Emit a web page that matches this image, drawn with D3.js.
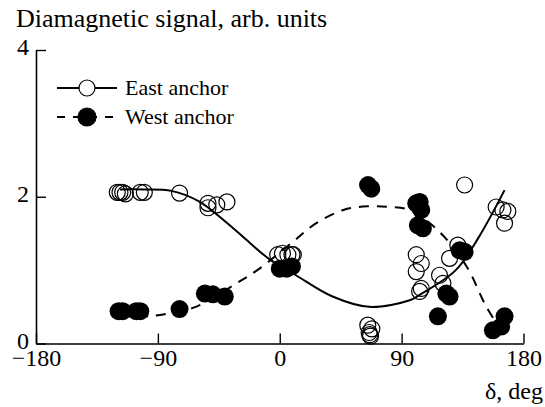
<!DOCTYPE html>
<html>
<head>
<meta charset="utf-8">
<script src="https://cdn.jsdelivr.net/npm/d3@7"></script>
<style>
  html, body { margin: 0; padding: 0; background: #fff; }
  svg { display: block; }
  svg text { font-family: "Liberation Serif", Tinos, "DejaVu Serif", serif !important; fill: #000; }
</style>
</head>
<body>
<svg id="chart" width="545" height="407"></svg>
<script>
// Measured points, East anchor (open circles): [delta in deg, signal]
const eastPoints = [
  [-120, 2.06], [-118, 2.06], [-116, 2.06], [-114, 2.04], [-103, 2.06], [-100, 2.06],
  [-74, 2.05], [-53, 1.91], [-53, 1.85], [-46.5, 1.89], [-39, 1.93],
  [-1.5, 1.21], [2, 1.23], [6, 1.21], [9, 1.21], [10, 1.21],
  [65, 0.25], [66, 0.15], [67, 0.10], [68, 0.20], [66.5, 0.12],
  [100.8, 1.21], [104.5, 1.09], [100.8, 0.98], [104.5, 0.75], [103.3, 0.71],
  [118, 0.93], [120.5, 0.82], [125.4, 1.16], [131.5, 1.34], [136.5, 2.16],
  [159.8, 1.86], [164.8, 1.82], [168.4, 1.80], [166, 1.64]
];

// Measured points, West anchor (filled circles)
const westPoints = [
  [-119, 0.44], [-116, 0.44], [-106, 0.44], [-103, 0.44], [-74, 0.47],
  [-55.3, 0.68], [-49.4, 0.67], [-40.6, 0.64],
  [0, 1.02], [5, 1.02], [9, 1.05],
  [65.2, 2.16], [67.6, 2.11],
  [100.8, 1.91], [103.3, 1.93], [104.5, 1.82], [102, 1.61], [105.7, 1.57],
  [132.8, 1.27], [136.5, 1.25], [123, 0.68], [125.4, 0.64], [116.8, 0.37],
  [157.4, 0.18], [163.5, 0.23], [166, 0.37]
];

// Fitted trend, East anchor (solid line)
const eastFit = [
  [-118, 2.10], [-100, 2.10], [-80, 2.08], [-60, 1.94], [-40, 1.66], [-22, 1.37],
  [-7, 1.14], [12, 0.93], [39, 0.64], [66, 0.50], [96, 0.59], [103, 0.66],
  [130, 1.00], [147, 1.45], [166, 2.09]
];

// Fitted trend, West anchor (dashed line)
const westFit = [
  [-118, 0.38], [-100, 0.37], [-85, 0.40], [-62, 0.50], [-32, 0.82], [-15, 1.02],
  [10, 1.39], [27, 1.64], [47, 1.82], [65, 1.87], [81, 1.86], [96, 1.82],
  [118, 1.52], [138, 1.05], [152, 0.52], [162, 0.22]
];

const xTicks = [-180, -90, 0, 90, 180];
const yTicks = [0, 2, 4];
const seriesNames = ["East anchor", "West anchor"];

const FONT = "'Liberation Serif', Tinos, 'DejaVu Serif', serif";

const svg = d3.select("#chart");
const x = d3.scaleLinear().domain([-180, 180]).range([36, 523.5]);
const y = d3.scaleLinear().domain([0, 4]).range([343.5, 50]);

// Axes with inward ticks
const xAxis = svg.append("g")
  .attr("transform", `translate(0,${y(0)})`)
  .call(d3.axisBottom(x).tickValues(xTicks).tickFormat(d3.format("d"))
    .tickSizeInner(-10).tickSizeOuter(0).tickPadding(4));
const yAxis = svg.append("g")
  .attr("transform", `translate(${x(-180)},0)`)
  .call(d3.axisLeft(y).tickValues(yTicks).tickFormat(d3.format("d"))
    .tickSizeInner(-10).tickSizeOuter(0).tickPadding(7));

[xAxis, yAxis].forEach(g => {
  g.attr("font-family", FONT);
  g.select(".domain").attr("stroke", "#000").attr("stroke-width", 1.6);
  g.selectAll(".tick line").attr("stroke", "#000").attr("stroke-width", 1.4);
  g.selectAll(".tick text")
    .attr("font-size", 24)
    .attr("fill", "#000");
});
xAxis.selectAll(".tick text").attr("dy", "0.76em");
yAxis.selectAll(".tick text").attr("dy", "0.2em");

// Axis titles
svg.append("text")
  .attr("x", 16).attr("y", 27)
  .attr("font-family", FONT)
  .attr("font-size", 26)
  .text("Diamagnetic signal, arb. units");
svg.append("text")
  .attr("x", 543).attr("y", 399)
  .attr("text-anchor", "end")
  .attr("font-family", FONT)
  .attr("font-size", 24)
  .text("δ, deg");

// Trend lines
const line = d3.line()
  .x(d => x(d[0]))
  .y(d => y(d[1]))
  .curve(d3.curveCatmullRom.alpha(0.5));

svg.append("path")
  .attr("d", line(westFit))
  .attr("fill", "none")
  .attr("stroke", "#000")
  .attr("stroke-width", 2)
  .attr("stroke-dasharray", "10,8");

svg.append("path")
  .attr("d", line(eastFit))
  .attr("fill", "none")
  .attr("stroke", "#000")
  .attr("stroke-width", 2);

// Markers
svg.append("g").selectAll("circle")
  .data(westPoints)
  .join("circle")
  .attr("cx", d => x(d[0]))
  .attr("cy", d => y(d[1]))
  .attr("r", 9)
  .attr("fill", "#000");

svg.append("g").selectAll("circle")
  .data(eastPoints)
  .join("circle")
  .attr("cx", d => x(d[0]))
  .attr("cy", d => y(d[1]))
  .attr("r", 8)
  .attr("fill", "none")
  .attr("stroke", "#000")
  .attr("stroke-width", 1.2);

// Legend
const legend = svg.append("g");
const rows = [
  { name: seriesNames[0], y: 88, dash: null, filled: false },
  { name: seriesNames[1], y: 117, dash: "8,8", filled: true }
];
rows.forEach(r => {
  legend.append("line")
    .attr("x1", 57).attr("x2", 117)
    .attr("y1", r.y).attr("y2", r.y)
    .attr("stroke", "#000").attr("stroke-width", 2)
    .attr("stroke-dasharray", r.dash);
  legend.append("circle")
    .attr("cx", 87).attr("cy", r.y)
    .attr("r", r.filled ? 9 : 8)
    .attr("fill", r.filled ? "#000" : "#fff")
    .attr("stroke", "#000").attr("stroke-width", 1.2);
  legend.append("text")
    .attr("x", 125).attr("y", r.y)
    .attr("dy", "0.33em")
    .attr("font-family", FONT)
    .attr("font-size", 22)
    .text(r.name);
});
</script>
</body>
</html>
